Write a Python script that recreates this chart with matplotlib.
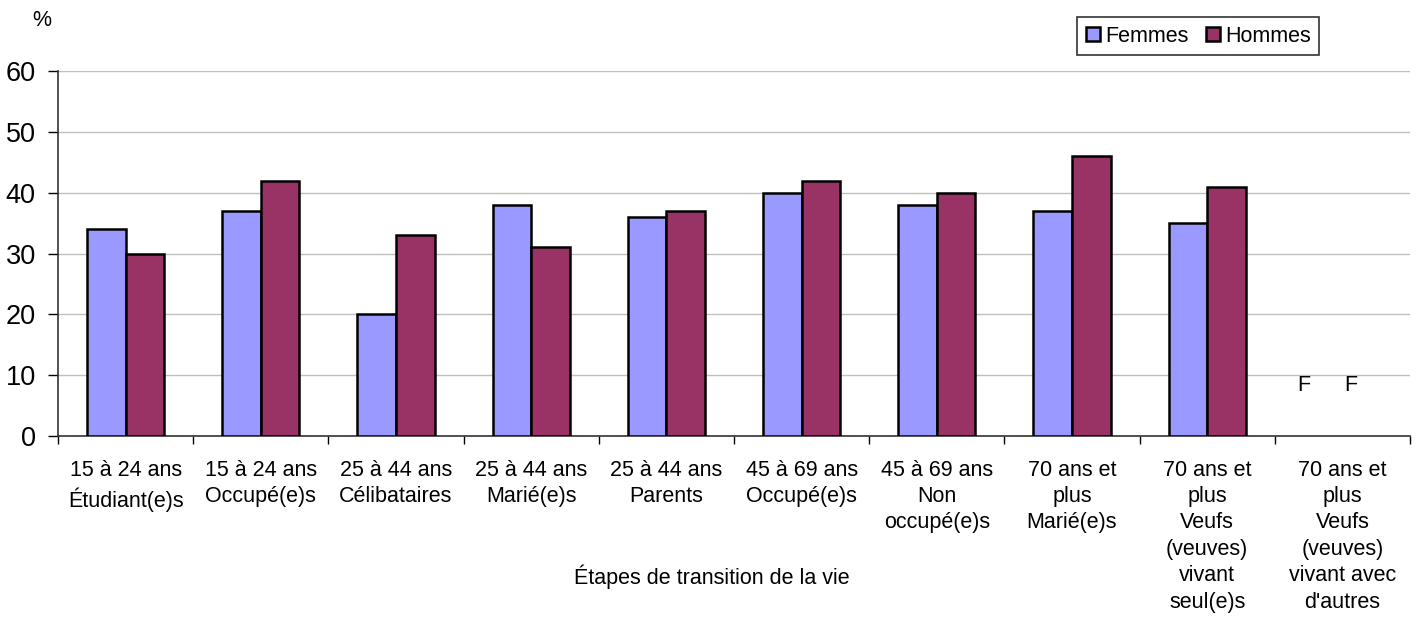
import matplotlib
matplotlib.use("Agg")
import matplotlib.pyplot as plt
import numpy as np

plt.rcParams['font.family'] = ['Liberation Sans', 'DejaVu Sans']

categories = [
    "15 à 24 ans\nÉtudiant(e)s",
    "15 à 24 ans\nOccupé(e)s",
    "25 à 44 ans\nCélibataires",
    "25 à 44 ans\nMarié(e)s",
    "25 à 44 ans\nParents",
    "45 à 69 ans\nOccupé(e)s",
    "45 à 69 ans\nNon\noccupé(e)s",
    "70 ans et\nplus\nMarié(e)s",
    "70 ans et\nplus\nVeufs\n(veuves)\nvivant\nseul(e)s",
    "70 ans et\nplus\nVeufs\n(veuves)\nvivant avec\nd'autres",
]
femmes = [34, 37, 20, 38, 36, 40, 38, 37, 35, np.nan]
hommes = [30, 42, 33, 31, 37, 42, 40, 46, 41, np.nan]
# Values too unreliable to publish are flagged with "F"
suppressed_label = "F"
suppressed_pos = 8.3

fig = plt.figure(figsize=(14.18, 6.27), dpi=100)
ax = fig.add_axes([58 / 1418, 1 - 436 / 627, (1410 - 58) / 1418, (436 - 71) / 627])

x = np.arange(len(categories))
w = 0.285
col_f = "#9999FF"
col_h = "#993366"
ax.bar(x - w / 2, femmes, w, color=col_f, edgecolor="black", linewidth=1.8, label="Femmes", zorder=3)
ax.bar(x + w / 2, hommes, w, color=col_h, edgecolor="black", linewidth=1.8, label="Hommes", zorder=3)

for i in range(len(categories)):
    if np.isnan(femmes[i]):
        ax.text(x[i] - w / 2 - 0.14, suppressed_pos, suppressed_label, ha="center", va="center", fontsize=15.5)
    if np.isnan(hommes[i]):
        ax.text(x[i] + w / 2 - 0.08, suppressed_pos, suppressed_label, ha="center", va="center", fontsize=15.5)

ax.set_xlim(-0.5, len(categories) - 0.5)
ax.set_ylim(0, 60)
ax.set_yticks(np.arange(0, 61, 10))
ax.tick_params(axis="y", labelsize=19.5, length=7, width=1, direction="out", pad=9)
ax.yaxis.grid(True, color="#C0C0C0", linewidth=1, zorder=0)
ax.set_axisbelow(True)

ax.set_xticks(np.arange(-0.5, len(categories), 1))
ax.set_xticklabels([])
ax.tick_params(axis="x", length=6, width=1, direction="out")
ax.set_xticks(x, minor=True)
ax.set_xticklabels(categories, minor=True, fontsize=15.5, linespacing=1.34, va="top")
ax.tick_params(axis="x", which="minor", length=0, pad=17)

for s in ["top", "right"]:
    ax.spines[s].set_visible(False)
for s in ["left", "bottom"]:
    ax.spines[s].set_linewidth(1.2)
    ax.spines[s].set_color("#333333")

fig.text(712 / 1418, 1 - 577 / 627, "Étapes de transition de la vie", ha="center", va="center", fontsize=15.5)
fig.text(42 / 1418, 1 - 20 / 627, "%", ha="center", va="center", fontsize=15.5)

leg = ax.legend(loc="upper left", bbox_to_anchor=(1077 / 1418, 1 - 17 / 627), bbox_transform=fig.transFigure,
                ncol=2, fontsize=15.5, frameon=True, fancybox=False, edgecolor="black",
                handlelength=0.65, handleheight=0.65, handletextpad=0.25, columnspacing=0.8,
                borderpad=0.4, borderaxespad=0)
leg.get_frame().set_linewidth(1.2)

fig.savefig("out.png", dpi=100)
